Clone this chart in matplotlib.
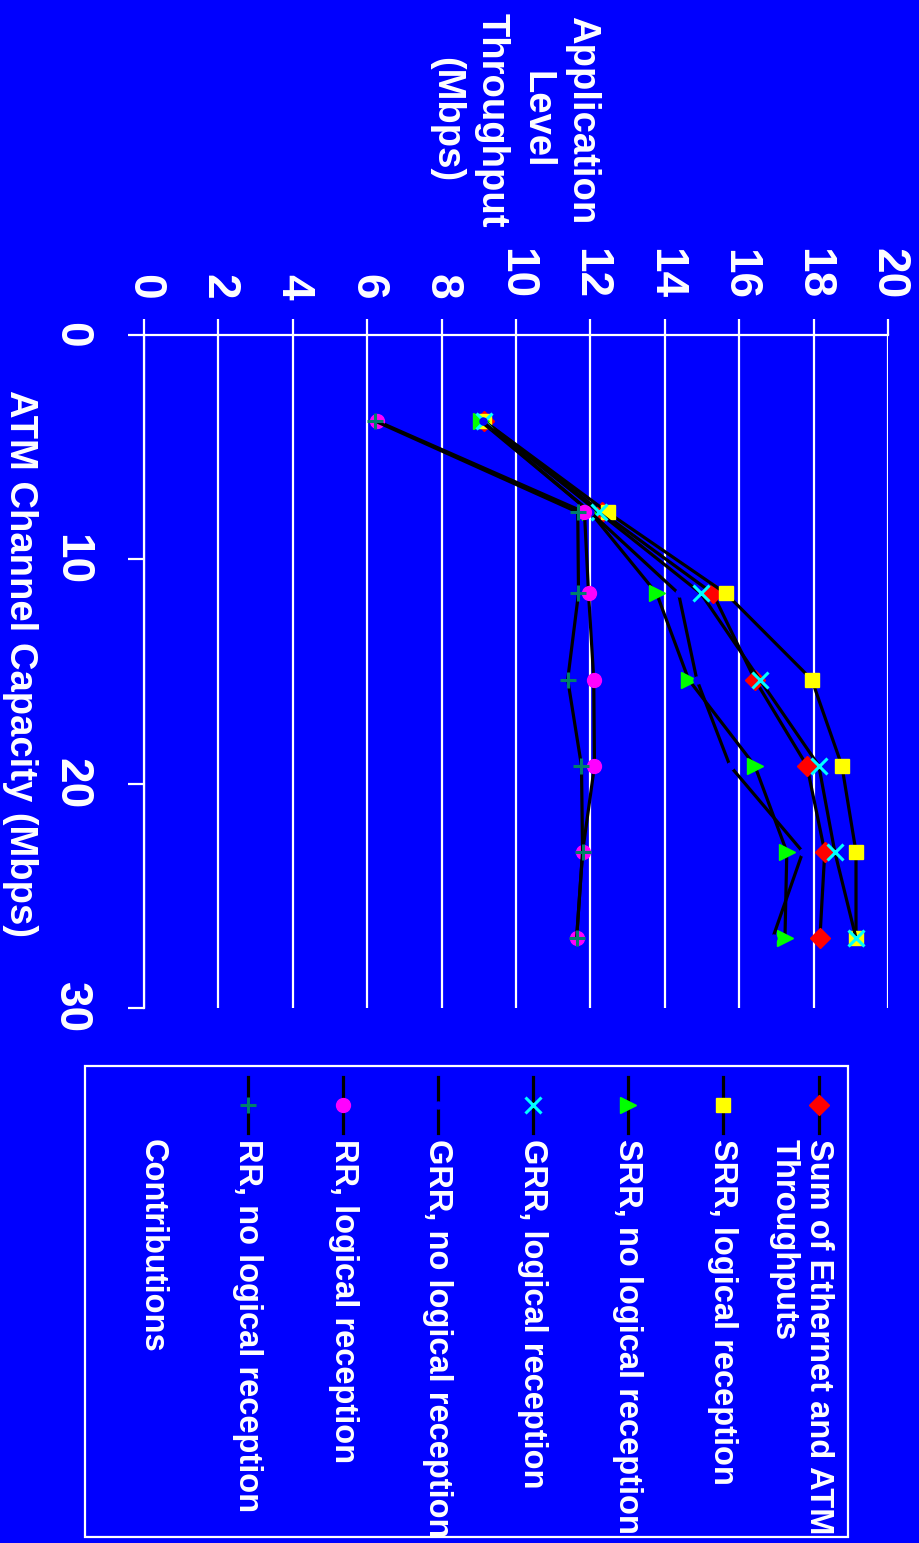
import matplotlib
matplotlib.use("Agg")
import matplotlib.pyplot as plt
from matplotlib.patches import Rectangle

plt.rcParams["font.family"] = ["Liberation Sans", "DejaVu Sans"]
plt.rcParams["font.weight"] = "bold"

BLUE = "#0000ff"
W, H = 920, 1543

# ATM channel capacity (Mbps) and application level throughput (Mbps)
capacity = [3.84, 7.9, 11.52, 15.36, 19.2, 23.04, 26.88]
sum_eth_atm = [9.15, 12.3, 15.29, 16.42, 17.82, 18.3, 18.17]
srr_logical = [9.15, 12.46, 15.64, 17.95, 18.76, 19.14, 19.14]
srr_no_logical = [9.05, 12.0, 13.78, 14.64, 16.42, 17.28, 17.23]
grr_logical = [9.15, 12.22, 14.97, 16.55, 18.14, 18.57, 19.14]
grr_no_logical = [9.1, 12.0, 14.37, 14.86, 15.75, 17.71, 16.9]
rr_logical = [6.27, 11.84, 11.95, 12.09, 12.11, 11.79, 11.63]
rr_no_logical = [6.22, 11.66, 11.68, 11.39, 11.76, 11.79, 11.63]

series_names = [
    "Sum of Ethernet and ATM\nThroughputs",
    "SRR, logical reception",
    "SRR, no logical reception",
    "GRR, logical reception",
    "GRR, no logical reception",
    "RR, logical reception",
    "RR, no logical reception",
]
series_values = [sum_eth_atm, srr_logical, srr_no_logical, grr_logical,
                 grr_no_logical, rr_logical, rr_no_logical]
extra_legend_label = "Contributions"

x_ticks = list(range(0, 21, 2))
y_ticks = [0, 10, 20, 30]

# marker, colour, size, edge width  (chart is drawn rotated 90 deg clockwise)
styles = [
    ("D", "#ff0000", 10, 1),
    ("s", "#ffff00", 10, 1),
    (">", "#00ff00", 12, 1),
    ("x", "#00ffff", 11, 2.2),
    ("o", BLUE, 5, 1),
    ("o", "#ff00ff", 10, 1),
    ("+", "#00806a", 12, 2.2),
]

fig = plt.figure(figsize=(W / 100, H / 100), dpi=100, facecolor=BLUE)
ax = fig.add_axes([144 / W, (H - 1008) / H, 744 / W, 673 / H], facecolor=BLUE)

for vals, (mk, col, ms, mew) in zip(series_values, styles):
    ax.plot(vals, capacity, color="black", lw=2.3, marker=mk, ms=ms,
            mfc=col, mec=col, mew=mew, zorder=3, clip_on=False)

ax.set_xlim(0, 20)
ax.set_ylim(30, 0)
ax.set_xticks(x_ticks)
ax.set_yticks(y_ticks)
ax.xaxis.tick_top()
ax.grid(axis="x", color="white", lw=1.6)
ax.set_axisbelow(True)

ax.tick_params(axis="x", direction="out", length=11.5, width=1.6,
               colors="white", labelsize=33, pad=14, labelrotation=-90)
ax.tick_params(axis="y", direction="out", length=11.5, width=1.6,
               colors="white", labelsize=33, pad=25, labelrotation=-90)
for lab in ax.get_yticklabels():
    lab.set_va("center")

for side in ("bottom", "right"):
    ax.spines[side].set_visible(False)
for side in ("top", "left"):
    ax.spines[side].set_color("white")
    ax.spines[side].set_linewidth(1.6)

fig.text(20 / W, 1 - 663 / H, "ATM Channel Capacity (Mbps)", rotation=-90,
         ha="center", va="center", color="white", fontsize=27.5)
fig.text(514 / W, 1 - 120 / H, "Application\nLevel\nThroughput\n(Mbps)",
         rotation=-90, ha="center", va="center", multialignment="center",
         color="white", fontsize=27.5, linespacing=1.33)

# legend, drawn by hand because it is rotated too
lax = fig.add_axes([0, 0, 1, 1])
lax.set_xlim(0, W)
lax.set_ylim(H, 0)
lax.axis("off")
lax.add_patch(Rectangle((85, 1066), 763, 471, fill=False, ec="white", lw=1.6))

handle_x = [819, 723, 628, 533, 438, 343, 248]
for hx, name, (mk, col, ms, mew) in zip(handle_x, series_names, styles):
    lax.plot([hx, hx], [1077, 1133], color="black", lw=2.3)
    lax.plot([hx], [1105], marker=mk, ms=ms, mfc=col, mec=col, mew=mew)
    lines = name.split("\n")
    for i, line in enumerate(lines):
        lax.text(hx - 35 * i, 1139, line, rotation=-90, ha="center", va="top",
                 color="white", fontsize=23.5)
lax.text(152, 1139, extra_legend_label, rotation=-90, ha="center", va="top",
         color="white", fontsize=23.5)

fig.savefig("out.png", dpi=100, facecolor=BLUE)
